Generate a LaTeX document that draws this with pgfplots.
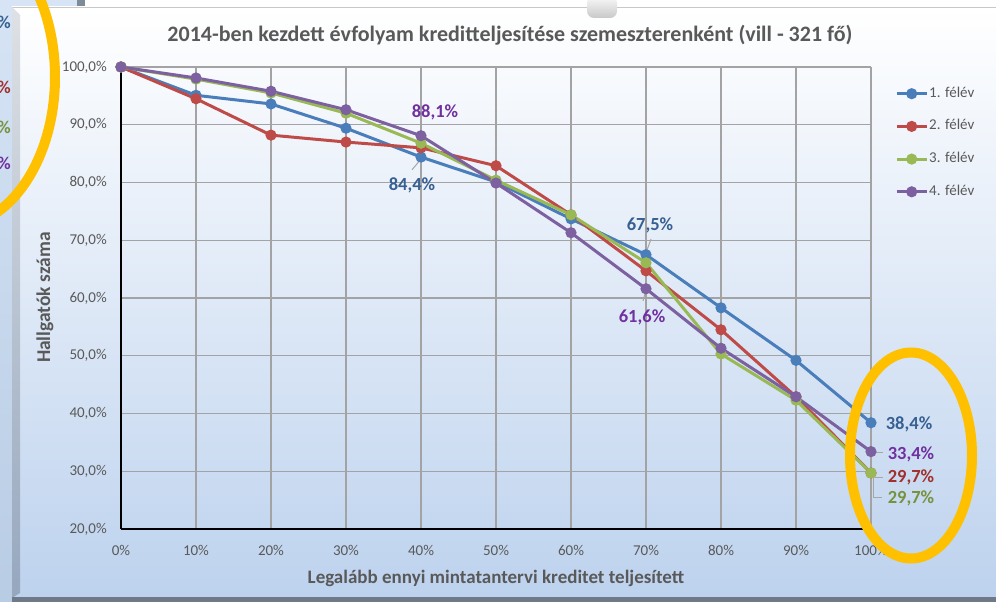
\documentclass[border=0pt]{standalone}
\usepackage{fontspec}
\setmainfont{Carlito}
\usepackage{pgfplots}
\pgfplotsset{compat=1.18}
\definecolor{s1}{HTML}{4A7EBB}
\definecolor{s2}{HTML}{BE4B48}
\definecolor{s3}{HTML}{98B954}
\definecolor{s4}{HTML}{7D60A0}
\definecolor{l1}{HTML}{376092}
\definecolor{l2}{HTML}{A0302D}
\definecolor{l3}{HTML}{76923C}
\definecolor{l4}{HTML}{7030A0}
\definecolor{txt}{HTML}{595959}
\definecolor{gridc}{HTML}{A3A3A3}
\definecolor{bgbot}{HTML}{BDD2EE}
\definecolor{ell}{HTML}{FFC000}
\definecolor{lead}{HTML}{A6A6A6}
\definecolor{pantop}{RGB}{214,228,245}
\definecolor{panbot}{RGB}{184,204,228}
\definecolor{darkbar}{RGB}{125,138,152}
\definecolor{topline}{RGB}{200,200,200}
\definecolor{beveltop}{RGB}{222,225,229}
\definecolor{bevelbot}{RGB}{150,167,190}
\definecolor{bottombar}{RGB}{110,122,135}
\definecolor{knobtop}{RGB}{250,250,250}
\definecolor{knobbot}{RGB}{200,200,200}
\begin{document}
\begin{tikzpicture}[x=1pt,y=1pt]
\useasboundingbox (0,0) rectangle (996,602);
% page background
\fill[white] (0,0) rectangle (996,602);
% left neighbouring panel
\shade[top color=pantop, bottom color=panbot] (0,0) rectangle (12,602);
\fill[pantop] (12,595) rectangle (80,602);
\fill[darkbar] (77,595) rectangle (85,602);
\begin{scope}[font=\bfseries\fontsize{18}{20}\selectfont]
\node[anchor=east, text=l1, inner sep=0pt] at (11,580) {0\%};
\node[anchor=east, text=l2, inner sep=0pt] at (11,515) {7\%};
\node[anchor=east, text=l3, inner sep=0pt] at (11,475) {7\%};
\node[anchor=east, text=l4, inner sep=0pt] at (11,439) {4\%};
\end{scope}
% chart area
\shade[top color=white, bottom color=bgbot] (12,4) rectangle (996,595);
\draw[topline, line width=0.8pt] (12,595) -- (996,595);
\shade[top color=beveltop, bottom color=bevelbot] (12,4) -- (12,595) -- (20,587) -- (20,9) -- cycle;
\fill[bottombar] (12,0) rectangle (996,4.5);
% top-center little shape
\shade[top color=knobtop, bottom color=knobbot, rounded corners=7pt] (587,584) rectangle (617,606);
% title and axis labels
\node[font=\bfseries\fontsize{22}{24}\selectfont, text=txt] at (510,567) {2014-ben kezdett évfolyam kreditteljesítése szemeszterenként (vill - 321 fő)};
\node[font=\bfseries\fontsize{19}{21}\selectfont, text=txt] at (496,24) {Legalább ennyi mintatantervi kreditet teljesített};
\node[rotate=90, font=\bfseries\fontsize{19.5}{21}\selectfont, text=txt] at (45,304.5) {Hallgatók száma};
\begin{axis}[
  at={(121pt,73pt)}, anchor=south west,
  scale only axis, width=750pt, height=462pt,
  xmin=0, xmax=100, ymin=20, ymax=100,
  clip=false,
  axis x line*=bottom, axis y line*=left,
  axis line style={-, black, line width=2.4pt},
  every outer x axis line/.append style={-},
  every outer y axis line/.append style={-},
  major tick length=0pt,
  grid=major,
  major grid style={gridc, line width=1.1pt},
  xtick={0,10,...,100},
  xticklabels={0\%,10\%,20\%,30\%,40\%,50\%,60\%,70\%,80\%,90\%,100\%},
  ytick={20,30,...,100},
  yticklabels={{20,0\%},{30,0\%},{40,0\%},{50,0\%},{60,0\%},{70,0\%},{80,0\%},{90,0\%},{100,0\%}},
  tick label style={font=\fontsize{15}{17}\selectfont, text=txt, inner sep=0pt},
  xticklabel style={anchor=center, yshift=-21pt},
  yticklabel style={anchor=east, xshift=-14pt},
  legend style={at={(1,1)}, anchor=north west, xshift=24pt, yshift=-19pt,
    draw=none, fill=none, inner sep=0pt,
    font=\fontsize{15}{17}\selectfont, text=txt, row sep=17.7pt,
    nodes={inner sep=1pt, text height=10pt, text depth=3pt}},
  legend cell align=left,
  legend image code/.code={\draw[mark repeat=2, mark phase=2, #1] plot coordinates {(0pt,0pt) (15pt,0pt) (30pt,0pt)};},
  every axis plot/.append style={line width=3pt, mark=*, mark size=4pt, mark options={solid}},
]
\addplot[s1, mark options={fill=s1}] coordinates {(0,100) (10,95.1) (20,93.6) (30,89.4) (40,84.4) (50,80.1) (60,73.7) (70,67.5) (80,58.3) (90,49.2) (100,38.4)};
\addlegendentry{1. félév}
\addplot[s2, mark options={fill=s2}] coordinates {(0,100) (10,94.5) (20,88.2) (30,87.0) (40,86.0) (50,82.9) (60,74.4) (70,64.7) (80,54.5) (90,42.9) (100,29.7)};
\addlegendentry{2. félév}
\addplot[s3, mark options={fill=s3}] coordinates {(0,100) (10,97.9) (20,95.5) (30,92.0) (40,86.8) (50,80.4) (60,74.4) (70,66.1) (80,50.3) (90,42.3) (100,29.7)};
\addlegendentry{3. félév}
\addplot[s4, mark options={fill=s4}] coordinates {(0,100) (10,98.1) (20,95.8) (30,92.6) (40,88.1) (50,79.9) (60,71.3) (70,61.6) (80,51.3) (90,42.9) (100,33.4)};
\addlegendentry{4. félév}
% leader lines
\draw[lead, line width=1pt] (axis cs:38.8,82.2) -- (axis cs:39.9,83.9);
\draw[lead, line width=1pt] (axis cs:70.13,68.3) -- (axis cs:70.67,70.2);
\draw[lead, line width=1pt] (axis cs:70.0,61.4) -- (axis cs:69.6,59.5);
\draw[lead, line width=1pt] (axis cs:100.53,33.16) -- (axis cs:101.6,33.16);
\draw[lead, line width=1pt] (axis cs:100.53,29.0) -- (axis cs:101.6,29.0);
\draw[lead, line width=1pt] (axis cs:100.27,28.8) -- (axis cs:100.27,25.5) -- (axis cs:101.47,25.5);
% data labels
\begin{scope}[every node/.style={font=\bfseries\fontsize{18.5}{20}\selectfont, inner sep=0pt}]
\node[text=l4] at (axis cs:41.87,92.2) {88,1\%};
\node[text=l1] at (axis cs:38.8,79.57) {84,4\%};
\node[text=l1] at (axis cs:70.53,72.64) {67,5\%};
\node[text=l4] at (axis cs:69.47,56.71) {61,6\%};
\node[text=l1] at (axis cs:105.07,38.18) {38,4\%};
\node[text=l4] at (axis cs:105.33,32.99) {33,4\%};
\node[text=l2] at (axis cs:105.33,29.0) {29,7\%};
\node[text=l3] at (axis cs:105.33,25.37) {29,7\%};
\end{scope}
\end{axis}
% highlight ellipses
\draw[ell, line width=10pt] (911,146.5) ellipse [x radius=61, y radius=103];
\draw[ell, line width=10pt] (-47,525) ellipse [x radius=102, y radius=150];
\end{tikzpicture}
\end{document}
